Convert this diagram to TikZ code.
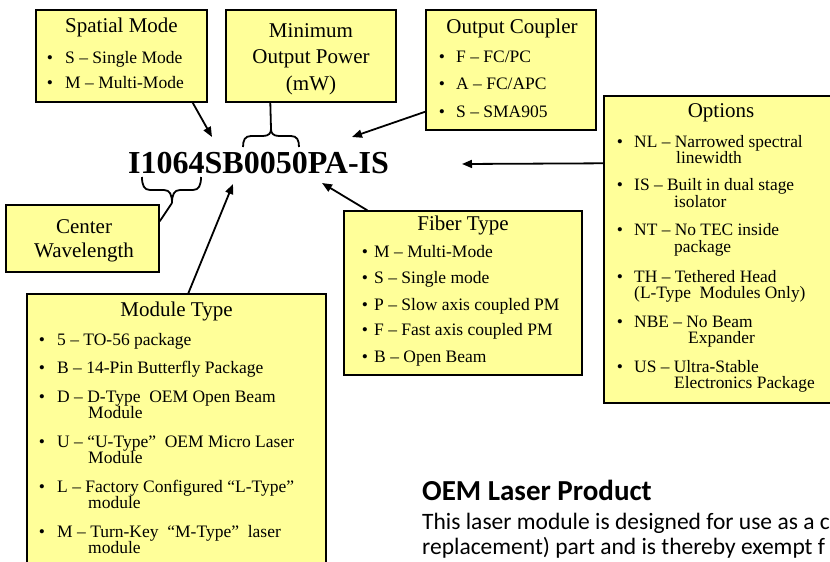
\documentclass[tikz,border=0pt]{standalone}
\usepackage{fontspec}
\setmainfont{Liberation Serif}
\newfontfamily\calib{Carlito}
\usetikzlibrary{arrows.meta,calc}
\definecolor{boxyellow}{RGB}{255,255,153}
\begin{document}
\begin{tikzpicture}[x=1pt,y=-1pt,
  box/.style={draw=black, line width=1.4pt, fill=boxyellow, inner sep=0pt},
  ttl/.style={anchor=base, inner sep=0pt, font=\fontsize{21}{21}\selectfont},
  itm/.style={anchor=base west, inner sep=0pt, font=\fontsize{17.5}{17.5}\selectfont},
  opt/.style={anchor=base west, inner sep=0pt, font=\fontsize{17.4}{17.4}\selectfont},
  bul/.style={anchor=base, inner sep=0pt, font=\fontsize{17.5}{17.5}\selectfont},
  arr/.style={line width=1.8pt, -{Triangle[length=10pt,width=8pt]}},
  brcline/.style={line width=1.8pt},
]
\useasboundingbox (0,0) rectangle (830,562);
\clip (0,0) rectangle (830,562);

% ---------- boxes ----------
\node[box, minimum width=171pt, minimum height=92pt] (spatial) at (121.5,56) {};
\node[box, minimum width=170pt, minimum height=92pt] (mop) at (311,56) {};
\node[box, minimum width=170pt, minimum height=120pt] (coupler) at (511,70) {};
\node[box, minimum width=234pt, minimum height=307pt] (options) at (721,249.5) {};
\node[box, minimum width=153pt, minimum height=67pt] (center) at (82.5,238.5) {};
\node[box, minimum width=299pt, minimum height=320pt] (module) at (176.5,454) {};
\node[box, minimum width=238pt, minimum height=164pt] (fiber) at (463,293) {};

% ---------- Spatial Mode ----------
\node[ttl] (spT) at (121.5,32) {Spatial Mode};
\node[bul] (spB1) at (50,63) {•};
\node[itm] (sp1) at (65,63) {S \textendash\ Single Mode};
\node[bul] (spB2) at (50,88) {•};
\node[itm] (sp2) at (65,88) {M \textendash\ Multi-Mode};

% ---------- Minimum Output Power ----------
\node[ttl] (mop1) at (311,37) {Minimum};
\node[ttl] (mop2) at (311,63) {Output Power};
\node[ttl] (mop3) at (311,90) {(mW)};

% ---------- Output Coupler ----------
\node[ttl] (ocT) at (512,33) {Output Coupler};
\node[bul] (ocB1) at (442,62) {•};
\node[itm] (oc1) at (456,62) {F \textendash\ FC/PC};
\node[bul] (ocB2) at (442,89) {•};
\node[itm] (oc2) at (456,89) {A \textendash\ FC/APC};
\node[bul] (ocB3) at (442,117) {•};
\node[itm] (oc3) at (456,117) {S \textendash\ SMA905};

% ---------- Options ----------
\node[ttl] (opT) at (721,117) {Options};
\node[bul] (opB1) at (620,147) {•};
\node[opt] (op1a) at (634,147) {NL \textendash\ Narrowed spectral};
\node[opt] (op1b) at (676,163) {linewidth};
\node[bul] (opB2) at (620,190) {•};
\node[opt] (op2a) at (634,190) {IS \textendash\ Built in dual stage};
\node[opt] (op2b) at (674,207) {isolator};
\node[bul] (opB3) at (620,235) {•};
\node[opt] (op3a) at (634,235) {NT \textendash\ No TEC inside};
\node[opt] (op3b) at (674,252) {package};
\node[bul] (opB4) at (620,282) {•};
\node[opt] (op4a) at (634,282) {TH \textendash\ Tethered Head};
\node[opt] (op4b) at (634,298) {(L-Type~ Modules Only)};
\node[bul] (opB5) at (620,327) {•};
\node[opt] (op5a) at (634,327) {NBE \textendash\ No Beam};
\node[opt] (op5b) at (688,343) {Expander};
\node[bul] (opB6) at (620,372) {•};
\node[opt] (op6a) at (634,372) {US \textendash\ Ultra-Stable};
\node[opt] (op6b) at (674,388) {Electronics Package};

% ---------- Center Wavelength ----------
\node[ttl] (cw1) at (84,233) {Center};
\node[ttl] (cw2) at (84,257) {Wavelength};

% ---------- Fiber Type ----------
\node[ttl] (fbT) at (463,230) {Fiber Type};
\node[bul] (fbB1) at (365,257) {•};
\node[itm] (fb1) at (374,257) {M \textendash\ Multi-Mode};
\node[bul] (fbB2) at (365,283) {•};
\node[itm] (fb2) at (374,283) {S \textendash\ Single mode};
\node[bul] (fbB3) at (365,310) {•};
\node[itm] (fb3) at (374,310) {P \textendash\ Slow axis coupled PM};
\node[bul] (fbB4) at (365,335) {•};
\node[itm] (fb4) at (374,335) {F \textendash\ Fast axis coupled PM};
\node[bul] (fbB5) at (365,362) {•};
\node[itm] (fb5) at (374,362) {B \textendash\ Open Beam};

% ---------- Module Type ----------
\node[ttl] (mtT) at (176.5,316) {Module Type};
\node[bul] (mtB1) at (42,345) {•};
\node[itm] (mt1) at (57,345) {5 \textendash\ TO-56 package};
\node[bul] (mtB2) at (42,373) {•};
\node[itm] (mt2) at (57,373) {B \textendash\ 14-Pin Butterfly Package};
\node[bul] (mtB3) at (42,402) {•};
\node[itm] (mt3a) at (57,402) {D \textendash\ D-Type~ OEM Open Beam};
\node[itm] (mt3b) at (88,418) {Module};
\node[bul] (mtB4) at (42,447) {•};
\node[itm] (mt4a) at (57,447) {U \textendash\ “U-Type”~ OEM Micro Laser};
\node[itm] (mt4b) at (88,463) {Module};
\node[bul] (mtB5) at (42,492) {•};
\node[itm] (mt5a) at (57,492) {L \textendash\ Factory Configured “L-Type”};
\node[itm] (mt5b) at (88,508) {module};
\node[bul] (mtB6) at (42,537) {•};
\node[itm] (mt6a) at (57,537) {M \textendash\ Turn-Key~ “M-Type”~ laser};
\node[itm] (mt6b) at (88,553) {module};

% ---------- part number ----------
\node[anchor=base west, inner sep=0pt, font=\bfseries\fontsize{32}{32}\selectfont] (code) at (128,173) {I1064SB0050PA-IS};

% ---------- arrow tips ----------
\coordinate (tipSpatial) at (212,137);
\coordinate (tipCoupler) at (352,137);
\coordinate (tipOptions) at (462,164);
\coordinate (tipFiber) at (322,183);
\coordinate (tipModule) at (233,184);

\draw[arr] ($(spatial.south east)+(-15,0)$) -- (tipSpatial);
\draw[arr] ($(coupler.south west)+(0,-19)$) -- (tipCoupler);
\draw[arr] ($(options.north west)+(0,68)$) -- (tipOptions);
\draw[arr] ($(fiber.north west)+(24,0)$) -- (tipFiber);
\draw[arr] ($(module.north west)+(162,0)$) -- (tipModule);

% ---------- braces ----------
\coordinate (mopCusp) at (271,129);
\draw[brcline] (243,147) .. controls (243,140) and (245,136) .. (251,136) -- (263,136)
  .. controls (269,136) and (271,133) .. (mopCusp)
  .. controls (271,133) and (273,136) .. (279,136) -- (291,136)
  .. controls (297,136) and (299,140) .. (299,147);
\draw[brcline] ($(mop.south west)+(45,0)$) -- (mopCusp);

\coordinate (cwCusp) at (172,203);
\draw[brcline] (142,177) .. controls (142,185) and (144,190) .. (150,190) -- (164,190)
  .. controls (170,190) and (172,195) .. (cwCusp)
  .. controls (172,195) and (174,190) .. (180,190) -- (193,190)
  .. controls (199,190) and (201,185) .. (201,177);
\draw[brcline] (cwCusp) -- ($(center.north east)+(0,17)$);

% ---------- OEM text ----------
\node[anchor=base west, inner sep=0pt, font=\calib\bfseries\fontsize{29}{29}\selectfont] (oemT) at (422,500) {OEM Laser Product};
\node[anchor=base west, inner sep=0pt, font=\calib\fontsize{23.5}{23.5}\selectfont] (oem1) at (422,529) {This laser module is designed for use as a c};
\node[anchor=base west, inner sep=0pt, font=\calib\fontsize{23.5}{23.5}\selectfont] (oem2) at (422,554) {replacement) part and is thereby exempt f};
\end{tikzpicture}
\end{document}
